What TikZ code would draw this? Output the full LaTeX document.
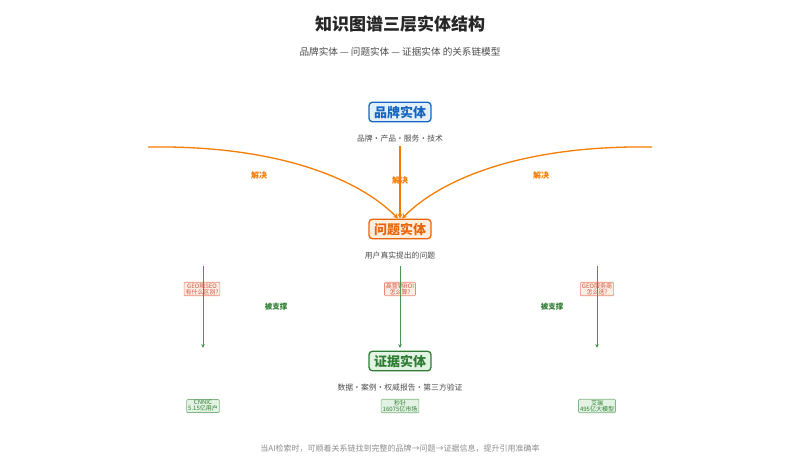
\documentclass[tikz,border=0pt]{standalone}
\usepackage{fontspec}
\setmainfont{Noto Sans CJK SC}
\usetikzlibrary{arrows.meta}
\definecolor{bl}{HTML}{1565C0}\definecolor{blf}{HTML}{E3F0FC}
\definecolor{orr}{HTML}{E8650A}\definecolor{orf}{HTML}{FDEEDD}\definecolor{ora}{HTML}{F57C00}
\definecolor{gr}{HTML}{2E7D32}\definecolor{grf}{HTML}{E2F3E3}\definecolor{grl}{HTML}{4A944E}
\definecolor{qr}{HTML}{EE8A70}\definecolor{qf}{HTML}{FDEDE8}\definecolor{qt}{HTML}{D0583A}
\begin{document}
\begin{tikzpicture}[x=1pt,y=-1pt,
 ent/.style 2 args={draw=#1,fill=#2,line width=1.3pt,rounded corners=3.5pt,inner xsep=5pt,inner ysep=3.5pt,font=\fontsize{13}{13}\selectfont\bfseries,text=#1},
 captxt/.style={font=\fontsize{7.8}{8}\selectfont,text=black!70},
 q/.style={draw=qr,fill=qf,line width=0.6pt,rounded corners=1pt,inner xsep=1.5pt,inner ysep=1pt,align=center,font=\fontsize{6}{6}\selectfont,text=qt},
 ev/.style={draw=grl!70,fill=grf,line width=0.6pt,rounded corners=1pt,inner xsep=1.5pt,inner ysep=1pt,align=center,font=\fontsize{6}{6}\selectfont,text=gr},
 orl/.style={font=\fontsize{8}{8}\selectfont\bfseries,text=ora},
 grtxt/.style={font=\fontsize{7.5}{7.5}\selectfont\bfseries,text=gr},
 oa/.style={draw=ora,line width=1.3pt,-{Stealth[length=5pt,width=5pt]}},
 ga/.style={draw=grl,line width=0.9pt,-{Stealth[length=4pt,width=3.5pt]}}]
\useasboundingbox (0,0) rectangle (800,459);
\node[font=\fontsize{17}{17}\selectfont\bfseries,text=black!85] (title) at (400,24) {知识图谱三层实体结构};
\node[font=\fontsize{9.6}{10}\selectfont,text=black!70] (sub) at (400,52) {品牌实体 — 问题实体 — 证据实体 的关系链模型};
\node[ent={bl}{blf}] (brand) at (400,112) {品牌实体};
\node[captxt] (bc) at (400,139) {品牌・产品・服务・技术};
\node[ent={orr}{orf}] (prob) at (400,229) {问题实体};
\node[captxt] (pc) at (400,256) {用户真实提出的问题};
\node[ent={gr}{grf}] (evid) at (400,361) {证据实体};
\node[captxt] (ec) at (400,388) {数据・案例・权威报告・第三方验证};
\coordinate (l0) at (148,147);
\coordinate (r0) at (652,147);
\draw[oa] (l0) .. controls (280,145) and (360,180) .. ([xshift=-2pt]prob.north);
\draw[oa] (r0) .. controls (520,145) and (440,180) .. ([xshift=2pt]prob.north);
\draw[oa] (bc.south) -- (prob.north);
\node[orl] at (259,175) {解决};
\node[orl] at (400,180) {解决};
\node[orl] at (541,175) {解决};
\foreach \x/\n in {203/a,400/b,597/c}{
 \coordinate (s\n) at (\x,266); \coordinate (e\n) at (\x,348);}
\node[q] (qa) at (202,289) {GEO和SEO\\有什么区别?};
\node[q] (qb) at (400,289) {高营销ROI\\怎么算?};
\node[q] (qc) at (597,289) {GEO服务商\\怎么选?};
\draw[ga] (sa) -- (ea);
\draw[ga] (sb) -- (eb);
\draw[ga] (sc) -- (ec);
\node[grtxt] at (276,307) {被支撑};
\node[grtxt] at (552,307) {被支撑};
\node[ev] (da) at (203,406) {CNNIC\\5.15亿用户};
\node[ev] (db) at (400,406) {秒针\\16075亿市场};
\node[ev] (dc) at (597,406) {艾瑞\\495亿大模型};
\node[font=\fontsize{8}{8}\selectfont,text=black!45] (foot) at (400,449) {当AI检索时，可顺着关系链找到完整的品牌→问题→证据信息，提升引用准确率};
\end{tikzpicture}
\end{document}
